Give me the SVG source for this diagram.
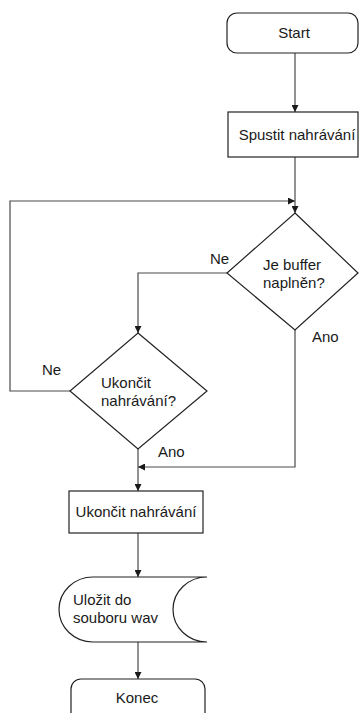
<svg xmlns="http://www.w3.org/2000/svg" width="359" height="713" viewBox="0 0 359 713">
  <style>
    .node { fill: #ffffff; stroke: #222222; stroke-width: 1.2; }
    .edge { fill: none; stroke: #4a4a4a; stroke-width: 1.2; marker-end: url(#arrow); }
    text { font-family: "Liberation Sans", Arial, sans-serif; font-size: 15px; fill: #1a1a1a; }
    .c { text-anchor: middle; }
  </style>
  <defs>
    <marker id="arrow" viewBox="0 0 10 10" refX="10" refY="5" markerWidth="7" markerHeight="7" markerUnits="userSpaceOnUse" orient="auto">
      <path d="M0,0 L10,5 L0,10 Z" fill="#1a1a1a"/>
    </marker>
  </defs>

  <rect width="359" height="713" fill="#ffffff"/>

  <!-- connectors -->
  <g id="connectors">
    <path class="edge" d="M295,53 V112"/>
    <path class="edge" d="M295,157 V213"/>
    <path class="edge" d="M70,391 H10 V201 H295"/>
    <path class="edge" d="M227,273 H138 V333"/>
    <path class="edge" d="M295,330 V467 H138"/>
    <path class="edge" d="M138,449 V491"/>
    <path class="edge" d="M138,533 V577"/>
    <path class="edge" d="M138,642 V679"/>
    <text x="210" y="264">Ne</text>
    <text x="312" y="342">Ano</text>
    <text x="42" y="375">Ne</text>
    <text x="158" y="457">Ano</text>
  </g>

  <!-- terminator: start -->
  <g id="start">
    <rect class="node" x="227" y="13" width="131" height="40" rx="10"/>
    <text class="c" x="294" y="38">Start</text>
  </g>

  <!-- process: start recording -->
  <g id="start-recording">
    <rect class="node" x="228" y="112" width="130" height="45"/>
    <text class="c" x="297" y="140">Spustit nahrávání</text>
  </g>

  <!-- decision: buffer full -->
  <g id="buffer-full">
    <path class="node" d="M295,213 L358,273 L295,330 L227,273 Z"/>
    <text x="263" y="270">Je buffer</text>
    <text x="263" y="288">naplněn?</text>
  </g>

  <!-- decision: stop recording -->
  <g id="stop-question">
    <path class="node" d="M138,333 L207,391 L138,449 L70,391 Z"/>
    <text x="101" y="388">Ukončit</text>
    <text x="101" y="406">nahrávání?</text>
  </g>

  <!-- process: stop recording -->
  <g id="stop-recording">
    <rect class="node" x="69" y="491" width="134" height="42"/>
    <text class="c" x="136" y="517">Ukončit nahrávání</text>
  </g>

  <!-- stored data: save to wav -->
  <g id="save-wav">
    <path class="node" d="M93,577 H207 A34,32.5 0 0 0 207,642 H93 A34,32.5 0 0 1 93,577 Z"/>
    <text x="73" y="605">Uložit do</text>
    <text x="73" y="623">souboru wav</text>
  </g>

  <!-- terminator: end -->
  <g id="end">
    <rect class="node" x="71" y="679" width="134" height="50" rx="10"/>
    <text class="c" x="137" y="703">Konec</text>
  </g>
</svg>
